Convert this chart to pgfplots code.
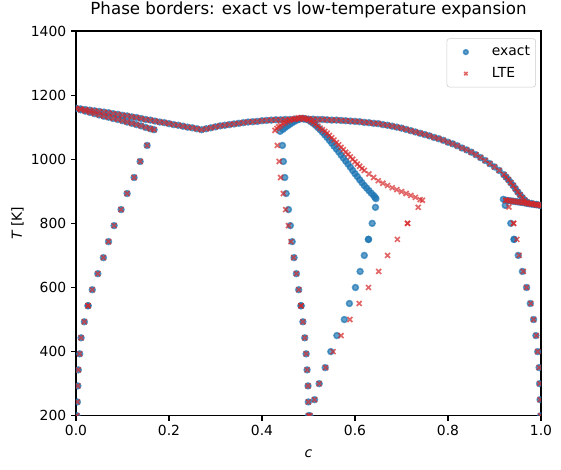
\documentclass[border=0pt]{standalone}
\usepackage{pgfplots}
\pgfplotsset{compat=1.18}
\usepackage{pgfplotstable}
\usepackage{fontspec}
\setmainfont{DejaVu Sans}

\definecolor{mplblue}{HTML}{1F77B4}
\definecolor{mplred}{HTML}{D62728}

% borders on which both methods agree
\pgfplotstableread{
c T
0.002 200
0.003 243
0.004 293
0.005 343
0.008 393
0.011 443
0.018 493
0.026 543
0.026 543
0.035 593
0.047 643
0.059 693
0.070 743
0.082 793
0.097 843
0.110 893
0.125 943
0.138 993
0.153 1043
0.168 1092
0.000 1158
0.010 1154
0.020 1150
0.030 1146
0.040 1142
0.050 1138
0.060 1134
0.070 1131
0.080 1127
0.090 1124
0.100 1120
0.110 1116
0.120 1112
0.130 1108
0.140 1104
0.150 1099
0.160 1095
0.000 1159
0.010 1157
0.020 1155
0.030 1153
0.040 1151
0.050 1149
0.060 1147
0.070 1145
0.080 1142
0.090 1140
0.100 1137
0.110 1135
0.120 1132
0.130 1130
0.140 1127
0.150 1124
0.160 1122
0.170 1119
0.180 1116
0.190 1114
0.200 1111
0.210 1108
0.220 1106
0.230 1103
0.240 1100
0.250 1098
0.260 1095
0.270 1092
0.280 1095
0.290 1098
0.300 1101
0.310 1104
0.320 1106
0.330 1108
0.340 1110
0.350 1112
0.360 1114
0.370 1116
0.380 1117
0.390 1118
0.400 1120
0.410 1121
0.420 1122
0.430 1123
0.440 1123
0.450 1124
0.460 1124
0.470 1125
0.480 1125
0.490 1125
0.500 1125
0.510 1125
0.520 1124
0.530 1124
0.540 1123
0.550 1122
0.560 1122
0.570 1121
0.580 1120
0.590 1119
0.600 1118
0.610 1117
0.620 1115
0.630 1114
0.640 1112
0.650 1111
0.660 1108
0.670 1106
0.680 1103
0.690 1100
0.700 1097
0.710 1093
0.720 1089
0.730 1085
0.740 1081
0.750 1077
0.760 1073
0.770 1068
0.780 1064
0.790 1059
0.800 1053
0.810 1048
0.820 1042
0.830 1035
0.840 1029
0.850 1022
0.860 1014
0.870 1005
0.880 996
0.890 986
0.900 976
0.910 965
0.920 952
0.925 944
0.930 936
0.935 927
0.940 918
0.945 908
0.950 898
0.955 889
0.960 880
0.965 872
0.970 866
0.980 862
0.990 859
1.000 856
0.925 872
0.930 871
0.935 870
0.940 869
0.945 868
0.950 867
0.955 866
0.960 865
0.965 864
0.970 862
0.975 861
0.980 860
0.985 859
0.990 858
0.995 857
1.000 856
}\sharedborders

% exact result: ordered-phase borders and the right solvus
\pgfplotstableread{
c T
0.500 200
0.4996 243
0.499 293
0.497 343
0.495 393
0.492 443
0.488 493
0.484 543
0.484 543
0.479 593
0.474 643
0.469 693
0.465 743
0.461 793
0.457 843
0.452 893
0.449 943
0.446 993
0.444 1043
0.439 1087
0.445 1093
0.450 1099
0.455 1104
0.460 1109
0.465 1114
0.470 1118
0.475 1122
0.480 1125
0.485 1127
0.490 1127
0.495 1125
0.500 1122
0.505 1117
0.510 1112
0.515 1106
0.520 1099
0.525 1092
0.530 1084
0.535 1076
0.540 1068
0.545 1059
0.550 1050
0.555 1041
0.560 1032
0.565 1023
0.570 1013
0.575 1004
0.580 994
0.585 985
0.590 975
0.595 965
0.600 955
0.605 946
0.610 936
0.615 927
0.620 918
0.625 910
0.630 902
0.635 894
0.640 887
0.643 881
0.645 877
0.503 200
0.513 250
0.523 300
0.536 350
0.548 400
0.561 450
0.577 500
0.588 550
0.601 600
0.611 650
0.620 700
0.629 750
0.629 750
0.637 800
0.644 850
0.999 200
0.998 250
0.997 300
0.996 350
0.993 400
0.989 450
0.984 500
0.977 550
0.969 600
0.960 650
0.951 700
0.942 750
0.942 750
0.935 800
0.923 856
0.919 875
}\exactborders

% low-temperature expansion: ordered-phase borders and the right solvus
\pgfplotstableread{
c T
0.500 200
0.4996 243
0.499 293
0.497 343
0.495 393
0.492 443
0.488 493
0.484 543
0.484 543
0.479 593
0.474 643
0.468 693
0.462 743
0.457 793
0.451 843
0.446 893
0.440 943
0.437 993
0.433 1043
0.428 1090
0.432 1096
0.436 1101
0.440 1105
0.445 1110
0.450 1114
0.455 1118
0.460 1121
0.466 1124
0.472 1127
0.478 1129
0.484 1130
0.490 1129
0.495 1126
0.500 1123
0.505 1119
0.510 1114
0.515 1109
0.520 1103
0.525 1097
0.530 1092
0.535 1087
0.540 1081
0.545 1074
0.550 1067
0.555 1060
0.560 1052
0.565 1045
0.570 1037
0.575 1030
0.580 1022
0.585 1015
0.590 1007
0.595 1000
0.600 992
0.605 985
0.610 978
0.615 971
0.620 965
0.630 954
0.640 943
0.650 933
0.660 925
0.670 918
0.680 911
0.690 905
0.700 899
0.710 893
0.720 887
0.730 881
0.740 874
0.745 872
0.503 200
0.513 250
0.523 300
0.537 350
0.553 400
0.570 450
0.589 500
0.609 550
0.629 600
0.651 650
0.670 700
0.691 750
0.713 800
0.713 800
0.736 850
0.999 200
0.998 250
0.997 300
0.996 350
0.993 400
0.990 450
0.984 500
0.978 550
0.969 600
0.962 650
0.953 700
0.948 750
0.941 800
0.941 800
0.931 851
0.924 872
}\lteborders

\begin{document}
\begin{tikzpicture}
\begin{axis}[
  scale only axis,
  width=334.8bp, height=277bp,
  xmin=0, xmax=1, ymin=200, ymax=1400,
  xtick={0,0.2,0.4,0.6,0.8,1},
  xticklabels={0.0,0.2,0.4,0.6,0.8,1.0},
  ytick={200,400,600,800,1000,1200,1400},
  yticklabels={200,400,600,800,1000,1200,1400},
  xtick pos=left, ytick pos=left,
  tick align=outside,
  major tick length=3.5bp,
  every tick/.style={black, line width=0.8bp},
  axis line style={line width=0.8bp},
  ticklabel style={font=\fontsize{10bp}{12bp}\selectfont},
  title={Phase borders: exact vs low-temperature expansion},
  title style={font=\fontsize{12bp}{14bp}\selectfont, at={(axis description cs:0.5,1)}, anchor=base, yshift=6bp},
  xlabel={\itshape c},
  ylabel={{\itshape T} [K]},
  label style={font=\fontsize{10bp}{12bp}\selectfont},
  xlabel style={at={(axis description cs:0.5,-0.108)}, anchor=base, inner sep=0pt},
  ylabel style={at={(axis description cs:-0.1162,0.5)}, anchor=base, inner sep=0pt},
  clip marker paths=true,
  legend style={at={(0.989,0.981)}, anchor=north east, draw=black!20, rounded corners=2bp,
    fill=white, fill opacity=0.8, text opacity=1,
    font=\fontsize{10bp}{12bp}\selectfont, inner xsep=4bp, inner ysep=2bp, row sep=0bp,
    nodes={text height=7.5bp, text depth=2bp, inner ysep=3bp, inner xsep=0bp}},
  legend cell align=left,
  legend image code/.code={\path (0bp,0bp) (28bp,0bp); \draw[mark repeat=2,mark phase=2,#1,mark size=1.7bp] plot coordinates {(0bp,0bp) (9.4bp,0bp) (18.8bp,0bp)};},
  exact/.style={only marks, mark=*, mark size=2.1bp,
    mark options={draw=mplblue, fill=mplblue, line width=1.1bp, opacity=0.7}},
  lte/.style={only marks, mark=x, mark size=2.5bp,
    mark options={draw=mplred, line width=1.2bp, opacity=0.7}},
]
\coordinate (bl) at (rel axis cs:0,0);
\coordinate (tr) at (rel axis cs:1,1);
\addplot[exact, forget plot] table[x=c, y=T] {\sharedborders};
\addplot[exact] table[x=c, y=T] {\exactborders};
\addlegendentry{exact}
\addplot[lte, forget plot] table[x=c, y=T] {\sharedborders};
\addplot[lte] table[x=c, y=T] {\lteborders};
\addlegendentry{LTE}
\end{axis}
\pgfresetboundingbox
\path ([shift={(-54.7bp,-38.4bp)}]bl) rectangle ([shift={(14.4bp,22.3bp)}]tr);
\end{tikzpicture}
\end{document}
